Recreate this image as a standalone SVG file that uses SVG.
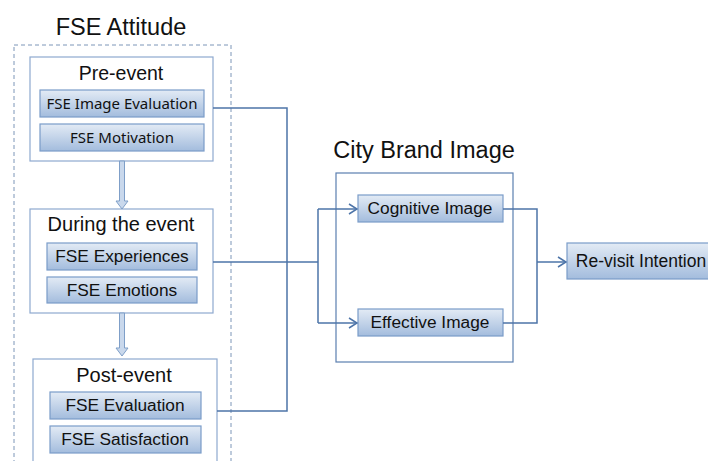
<svg xmlns="http://www.w3.org/2000/svg" width="708" height="461" viewBox="0 0 708 461">
<defs>
<linearGradient id="g" x1="0" y1="0" x2="0" y2="1">
<stop offset="0" stop-color="#e3ebf5"/>
<stop offset="1" stop-color="#a3bcdd"/>
</linearGradient>
<marker id="ah" markerWidth="10" markerHeight="12" refX="9" refY="6" orient="auto" markerUnits="userSpaceOnUse">
<path d="M1,1 L9,6 L1,11" fill="none" stroke="#4d74a8" stroke-width="1.5"/>
</marker>
<style>
.t{font-family:"Liberation Sans",Arial,sans-serif;fill:#111;text-anchor:middle}
.c{font-family:"Noto Sans","Open Sans",sans-serif;fill:#111;text-anchor:middle}
.grp{fill:#fff;stroke:#8ea9cf;stroke-width:1.2}
.box{fill:url(#g);stroke:#7a9cc9;stroke-width:1.2}
.con{fill:none;stroke:#4d74a8;stroke-width:1.5}
.blk{fill:#c9d8ec;stroke:#7f9fc8;stroke-width:1}
</style>
</defs>
<rect width="708" height="461" fill="#fff"/>

<g id="fse-attitude">
<rect x="14" y="45" width="217" height="430" fill="none" stroke="#7d96b8" stroke-width="1" stroke-dasharray="4,3"/>
<text class="t" x="121" y="35" font-size="23.5">FSE Attitude</text>
</g>

<g id="pre-event">
<rect class="grp" x="30" y="57" width="183" height="104"/>
<text class="t" x="121" y="80" font-size="19.5">Pre-event</text>
<g id="fse-image-evaluation">
<rect class="box" x="40" y="90" width="164" height="27"/>
<text class="c" x="122" y="109" font-size="15">FSE Image Evaluation</text>
</g>
<g id="fse-motivation">
<rect class="box" x="40" y="124" width="164" height="27"/>
<text class="c" x="122" y="143" font-size="15">FSE Motivation</text>
</g>
</g>

<g id="during-event">
<rect class="grp" x="30" y="209" width="183" height="104"/>
<text class="t" x="121" y="231" font-size="20">During the event</text>
<g id="fse-experiences">
<rect class="box" x="47" y="243" width="150" height="27"/>
<text class="t" x="122" y="262" font-size="17.3">FSE Experiences</text>
</g>
<g id="fse-emotions">
<rect class="box" x="47" y="277" width="150" height="26"/>
<text class="t" x="122" y="296" font-size="17.3">FSE Emotions</text>
</g>
</g>

<g id="post-event">
<rect class="grp" x="33" y="359" width="184" height="120"/>
<text class="t" x="124" y="382" font-size="20">Post-event</text>
<g id="fse-evaluation">
<rect class="box" x="50" y="392" width="151" height="27"/>
<text class="t" x="125" y="411" font-size="17.3">FSE Evaluation</text>
</g>
<g id="fse-satisfaction">
<rect class="box" x="50" y="426" width="151" height="27"/>
<text class="t" x="125" y="445" font-size="17.3">FSE Satisfaction</text>
</g>
</g>

<g id="city-brand-image">
<rect x="336" y="173" width="177" height="189" fill="#fff" stroke="#5b7fb0" stroke-width="1.2"/>
<text class="t" x="424" y="158" font-size="23.5">City Brand Image</text>
<g id="cognitive-image">
<rect class="box" x="358" y="195" width="145" height="27"/>
<text class="t" x="430" y="214" font-size="17.3">Cognitive Image</text>
</g>
<g id="effective-image">
<rect class="box" x="358" y="309" width="145" height="27"/>
<text class="t" x="430" y="328" font-size="17.3">Effective Image</text>
</g>
</g>

<g id="re-visit-intention">
<rect class="box" x="567" y="243" width="150" height="36"/>
<text class="t" x="641" y="267" font-size="17.5">Re-visit Intention</text>
</g>

<g id="connectors">
<path class="blk" d="M119.5,161 L124.5,161 L124.5,201 L128,201 L122,209 L116,201 L119.5,201 Z"/>
<path class="blk" d="M119.5,313 L124.5,313 L124.5,348 L128,348 L122,356 L116,348 L119.5,348 Z"/>
<path class="con" d="M213,108 L287,108 L287,411 L217,411"/>
<path class="con" d="M213,262 L318,262"/>
<path class="con" d="M318,209 L318,323"/>
<path class="con" d="M318,209 L357,209" marker-end="url(#ah)"/>
<path class="con" d="M318,323 L357,323" marker-end="url(#ah)"/>
<path class="con" d="M503,209 L537,209 L537,323 L503,323"/>
<path class="con" d="M537,262 L566,262" marker-end="url(#ah)"/>
</g>
</svg>
